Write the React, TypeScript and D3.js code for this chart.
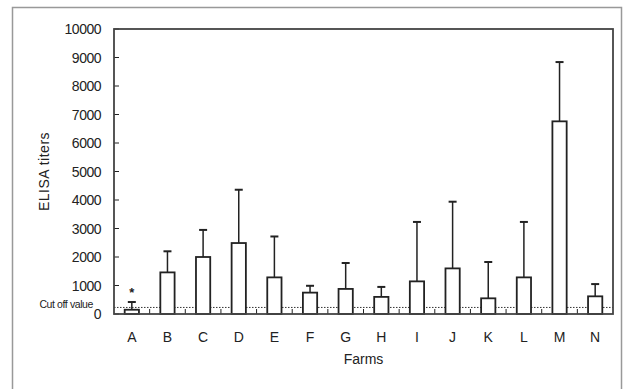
import * as d3 from "d3";

const farms = ["A", "B", "C", "D", "E", "F", "G", "H", "I", "J", "K", "L", "M", "N"];
const means = [150, 1460, 2000, 2490, 1285, 750, 880, 600, 1145, 1600, 550, 1285, 6760, 620];
const upper = [420, 2200, 2950, 4360, 2720, 990, 1790, 950, 3230, 3940, 1825, 3230, 8840, 1050];
const yTicks = [0, 1000, 2000, 3000, 4000, 5000, 6000, 7000, 8000, 9000, 10000];
const cutOff = 230;
const starred = ["A"];

export default function App() {
  const width = 625;
  const height = 389;
  const m = { top: 29, right: 12, bottom: 75, left: 114 };
  const innerW = width - m.left - m.right;
  const innerH = height - m.top - m.bottom;

  const x = d3.scaleBand().domain(farms).range([0, innerW]).paddingInner(0.6).paddingOuter(0.3);
  const band = d3.scaleBand().domain(farms).range([0, innerW]);
  const y = d3.scaleLinear().domain([0, 10000]).range([innerH, 0]);
  const font = "'Liberation Sans', Arial, sans-serif";
  const ink = "#222";

  return (
    <svg width={width} height={height} style={{ position: "fixed", left: 0, top: 0 }}>
      <rect x={0} y={0} width={width} height={height} fill="#fff" />
      <rect x={12.5} y={7.5} width={609} height={390} fill="none" stroke="#999" strokeWidth={1.5} />
      <g transform={`translate(${m.left},${m.top})`}>
        {/* cut-off line */}
        <line x1={0} x2={innerW} y1={y(cutOff)} y2={y(cutOff)} stroke="#333" strokeWidth={1} strokeDasharray="1.5,1.5" />
        {yTicks.map((t) => (
          <g key={`y${t}`}>
            <line x1={0} x2={5} y1={y(t)} y2={y(t)} stroke={ink} />
            <text x={-13} y={y(t) + 5} textAnchor="end" fontSize="14" fontFamily={font} fill={ink} letterSpacing="-0.5">{t}</text>
          </g>
        ))}
        {farms.slice(1).map((f) => (
          <line key={`xt${f}`} x1={band(f)} x2={band(f)} y1={innerH} y2={innerH - 5} stroke={ink} />
        ))}
        {farms.map((f, i) => {
          const bx = x(f)!;
          const bw = x.bandwidth();
          const cx = bx + bw / 2;
          return (
            <g key={f}>
              <line x1={cx} x2={cx} y1={y(means[i])} y2={y(upper[i])} stroke={ink} strokeWidth={1.5} />
              <line x1={cx - 4} x2={cx + 4} y1={y(upper[i])} y2={y(upper[i])} stroke={ink} strokeWidth={2} />
              <rect x={bx} y={y(means[i])} width={bw} height={innerH - y(means[i])} fill="#fff" stroke={ink} strokeWidth={1.8} />
              <text x={band(f)! + band.bandwidth() / 2} y={innerH + 28} textAnchor="middle" fontSize="14" fontFamily={font} fill={ink}>{f}</text>
              {starred.includes(f) && (
                <text x={cx} y={y(upper[i]) - 5} textAnchor="middle" fontSize="13" fontWeight="bold" fontFamily={font} fill={ink}>*</text>
              )}
            </g>
          );
        })}
        <rect x={0} y={0} width={innerW} height={innerH} fill="none" stroke="#444" strokeWidth={1.8} />
        <text x={innerW / 2} y={innerH + 50} textAnchor="middle" fontSize="14" fontFamily={font} fill={ink}>Farms</text>
        <text x={-21} y={y(cutOff) + 1} textAnchor="end" fontSize="10.5" fontFamily={font} fill={ink} letterSpacing="-0.4">Cut  off value</text>
        <text transform={`translate(${-65},${innerH / 2}) rotate(-90)`} textAnchor="middle" fontSize="14" fontFamily={font} fill={ink} letterSpacing="0.5">ELISA titers</text>
      </g>
    </svg>
  );
}
